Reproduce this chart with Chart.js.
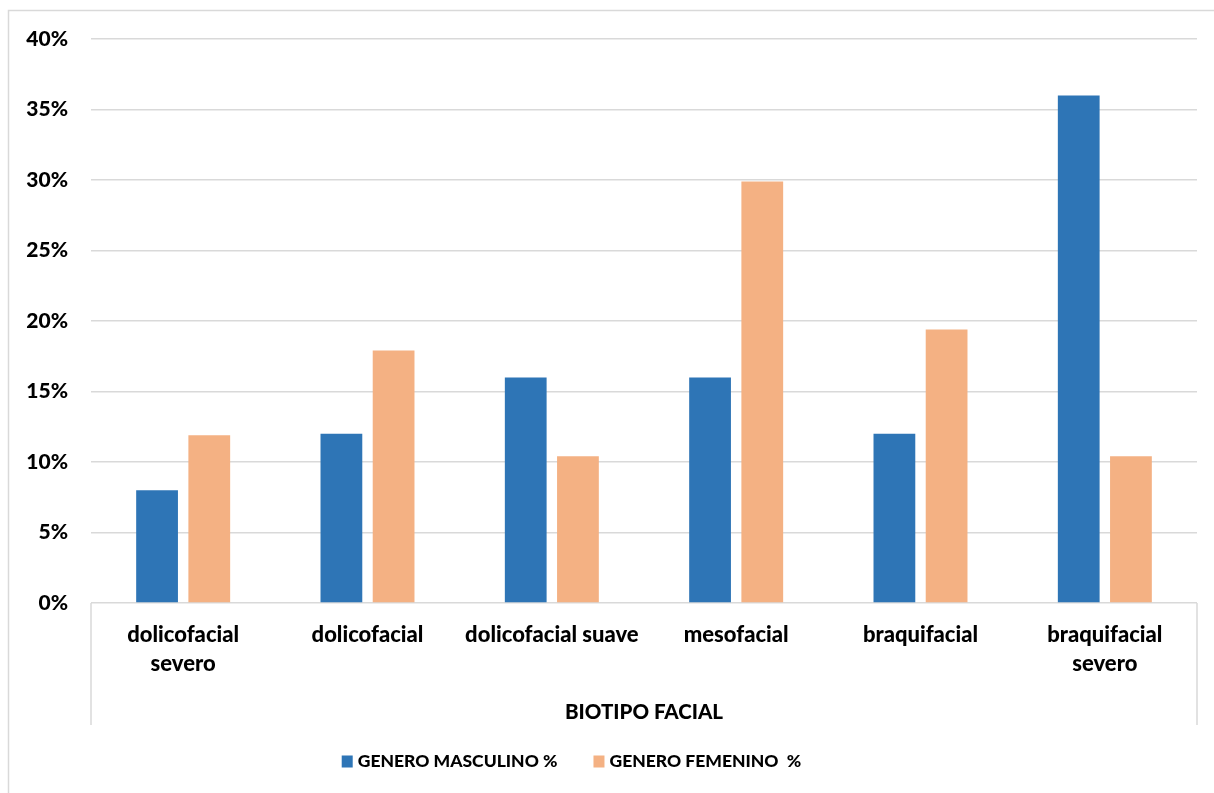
<!DOCTYPE html>
<html>
<head>
<meta charset="utf-8">
<script src="https://cdn.jsdelivr.net/npm/chart.js@4.4.1/dist/chart.umd.min.js"></script>
<style>
  html, body { margin: 0; padding: 0; background: #ffffff; }
  #wrap { width: 1214px; height: 793px; position: relative; }
</style>
</head>
<body>
<div id="wrap"><canvas id="chart"></canvas></div>
<script>
// Facial biotype distribution by gender (percent of each group)
const categories = [['dolicofacial', 'severo'], 'dolicofacial', 'dolicofacial suave', 'mesofacial', 'braquifacial', ['braquifacial', 'severo']];
const masculino = [8, 12, 16, 16, 12, 36];
const femenino = [11.9, 17.9, 10.4, 29.9, 19.4, 10.4];
const seriesNames = ['GENERO MASCULINO %', 'GENERO FEMENINO  %'];
const yTickValues = [0, 5, 10, 15, 20, 25, 30, 35, 40];
const axisTitle = 'BIOTIPO FACIAL';

const FONT = "Lato, 'Open Sans', 'Liberation Sans', sans-serif";
const WEIGHT = '900';
const GRID = '#d9d9d9';
const BLUE = '#2e75b6';
const ORANGE = '#f4b183';

// Outer frame, category box side lines and the legend row
const decorations = {
  id: 'decorations',
  beforeDraw(chart) {
    const ctx = chart.ctx;
    ctx.save();
    ctx.strokeStyle = GRID;
    ctx.lineWidth = 1.5;
    ctx.strokeRect(8.5, 10.5, chart.width + 20, chart.height + 20);
    ctx.restore();
  },
  afterDraw(chart) {
    const ctx = chart.ctx;
    const area = chart.chartArea;
    const xs = chart.scales.x;
    ctx.save();
    ctx.strokeStyle = GRID;
    ctx.lineWidth = 1.5;
    [area.left, area.right].forEach(px => {
      ctx.beginPath();
      ctx.moveTo(px, area.bottom);
      ctx.lineTo(px, xs.bottom);
      ctx.stroke();
    });

    // legend: colour box + series name for each dataset
    const boxW = 11, boxH = 12, textGap = 5, itemGap = 36, cy = 761.5;
    ctx.font = WEIGHT + ' 17.5px ' + FONT;
    ctx.textBaseline = 'middle';
    ctx.textAlign = 'left';
    const items = chart.data.datasets.map(ds => ({ label: ds.label, color: ds.backgroundColor, w: ctx.measureText(ds.label).width }));
    const total = items.reduce((s, it) => s + boxW + textGap + it.w, 0) + itemGap * (items.length - 1);
    let x = 571.5 - total / 2;
    items.forEach(it => {
      ctx.fillStyle = it.color;
      ctx.fillRect(x, cy - boxH / 2, boxW, boxH);
      x += boxW + textGap;
      ctx.fillStyle = '#000000';
      ctx.fillText(it.label, x, cy);
      x += it.w + itemGap;
    });
    ctx.restore();
  }
};

new Chart(document.getElementById('chart'), {
  type: 'bar',
  data: {
    labels: categories,
    datasets: [
      { label: seriesNames[0], data: masculino, backgroundColor: BLUE },
      { label: seriesNames[1], data: femenino, backgroundColor: ORANGE }
    ]
  },
  options: {
    responsive: true,
    maintainAspectRatio: false,
    animation: false,
    devicePixelRatio: 1,
    categoryPercentage: 0.5665,
    barPercentage: 0.8,
    layout: { padding: { top: 39, right: 17, bottom: 68, left: 0 } },
    plugins: {
      legend: { display: false },
      tooltip: { enabled: false }
    },
    scales: {
      x: {
        grid: { display: false },
        border: { display: false },
        ticks: {
          color: '#000000',
          padding: 10,
          maxRotation: 0,
          autoSkip: false,
          font: { family: FONT, size: 22, weight: WEIGHT, lineHeight: 1.3 }
        },
        title: {
          display: true,
          text: axisTitle,
          color: '#000000',
          padding: { top: 0, bottom: 0 },
          font: { family: FONT, size: 20.5, weight: WEIGHT, lineHeight: 1.2 }
        },
        afterFit(scale) { scale.height = 122; }
      },
      y: {
        min: 0,
        max: 40,
        afterBuildTicks(scale) { scale.ticks = yTickValues.map(v => ({ value: v })); },
        grid: { color: GRID, lineWidth: 1.5, drawTicks: false },
        border: { display: false },
        ticks: {
          color: '#000000',
          padding: 23,
          font: { family: FONT, size: 21, weight: WEIGHT },
          callback: v => v + '%'
        },
        afterFit(scale) { scale.width = 91; }
      }
    }
  },
  plugins: [decorations]
});
</script>
</body>
</html>
